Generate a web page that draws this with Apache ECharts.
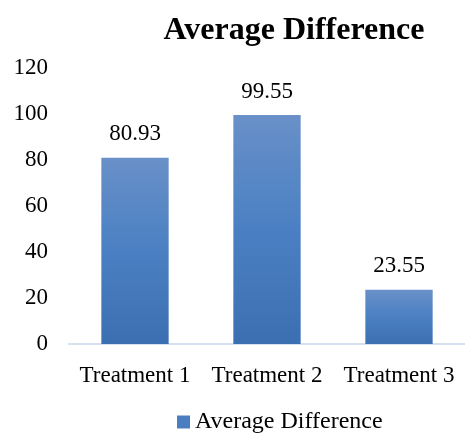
<!DOCTYPE html>
<html>
<head>
<meta charset="utf-8">
<script src="https://cdn.jsdelivr.net/npm/echarts@6/dist/echarts.min.js"></script>
<style>
  html, body { margin: 0; padding: 0; background: #fff; }
  #chart { width: 465px; height: 439px; }
</style>
</head>
<body>
<div id="chart"></div>
<script>
// Average difference per treatment
const categories = ['Treatment 1', 'Treatment 2', 'Treatment 3'];
const averageDifference = [80.93, 99.55, 23.55];
const seriesName = 'Average Difference';

const serif = '"Liberation Serif", "Times New Roman", serif';

const barFill = new echarts.graphic.LinearGradient(0, 0, 0, 1, [
  { offset: 0, color: '#6990c8' },
  { offset: 0.5, color: '#4a80c3' },
  { offset: 1, color: '#3c6fb2' }
]);

const chart = echarts.init(document.getElementById('chart'));
chart.setOption({
  animation: false,
  title: {
    text: seriesName,
    left: 289,
    textAlign: 'center',
    top: 10,
    textStyle: { fontFamily: serif, fontWeight: 'bold', fontSize: 32, color: '#000' }
  },
  legend: {
    bottom: 0,
    left: 172,
    itemWidth: 13,
    itemHeight: 13,
    icon: 'rect',
    textStyle: { fontFamily: serif, fontSize: 24, color: '#000' },
    data: [{ name: seriesName, itemStyle: { color: '#4a7ec0' } }]
  },
  grid: { left: 69, right: -5, top: 68, bottom: 95 },
  xAxis: {
    type: 'category',
    data: categories,
    axisLine: { lineStyle: { color: '#d5e0ee', width: 2 } },
    axisTick: { show: false },
    axisLabel: {
      interval: 0,
      hideOverlap: false,
      fontFamily: serif,
      fontSize: 23,
      color: '#000',
      margin: 20
    }
  },
  yAxis: {
    type: 'value',
    min: 0,
    max: 120,
    interval: 20,
    splitLine: { show: false },
    axisLine: { show: false },
    axisTick: { show: false },
    axisLabel: { fontFamily: serif, fontSize: 23, color: '#000', margin: 21 }
  },
  series: [{
    name: seriesName,
    type: 'bar',
    data: averageDifference,
    barWidth: '51%',
    itemStyle: { color: barFill },
    label: {
      show: true,
      position: 'top',
      distance: 12,
      fontFamily: serif,
      fontSize: 23,
      color: '#000',
      formatter: p => p.value.toFixed(2)
    }
  }]
});
</script>
</body>
</html>
